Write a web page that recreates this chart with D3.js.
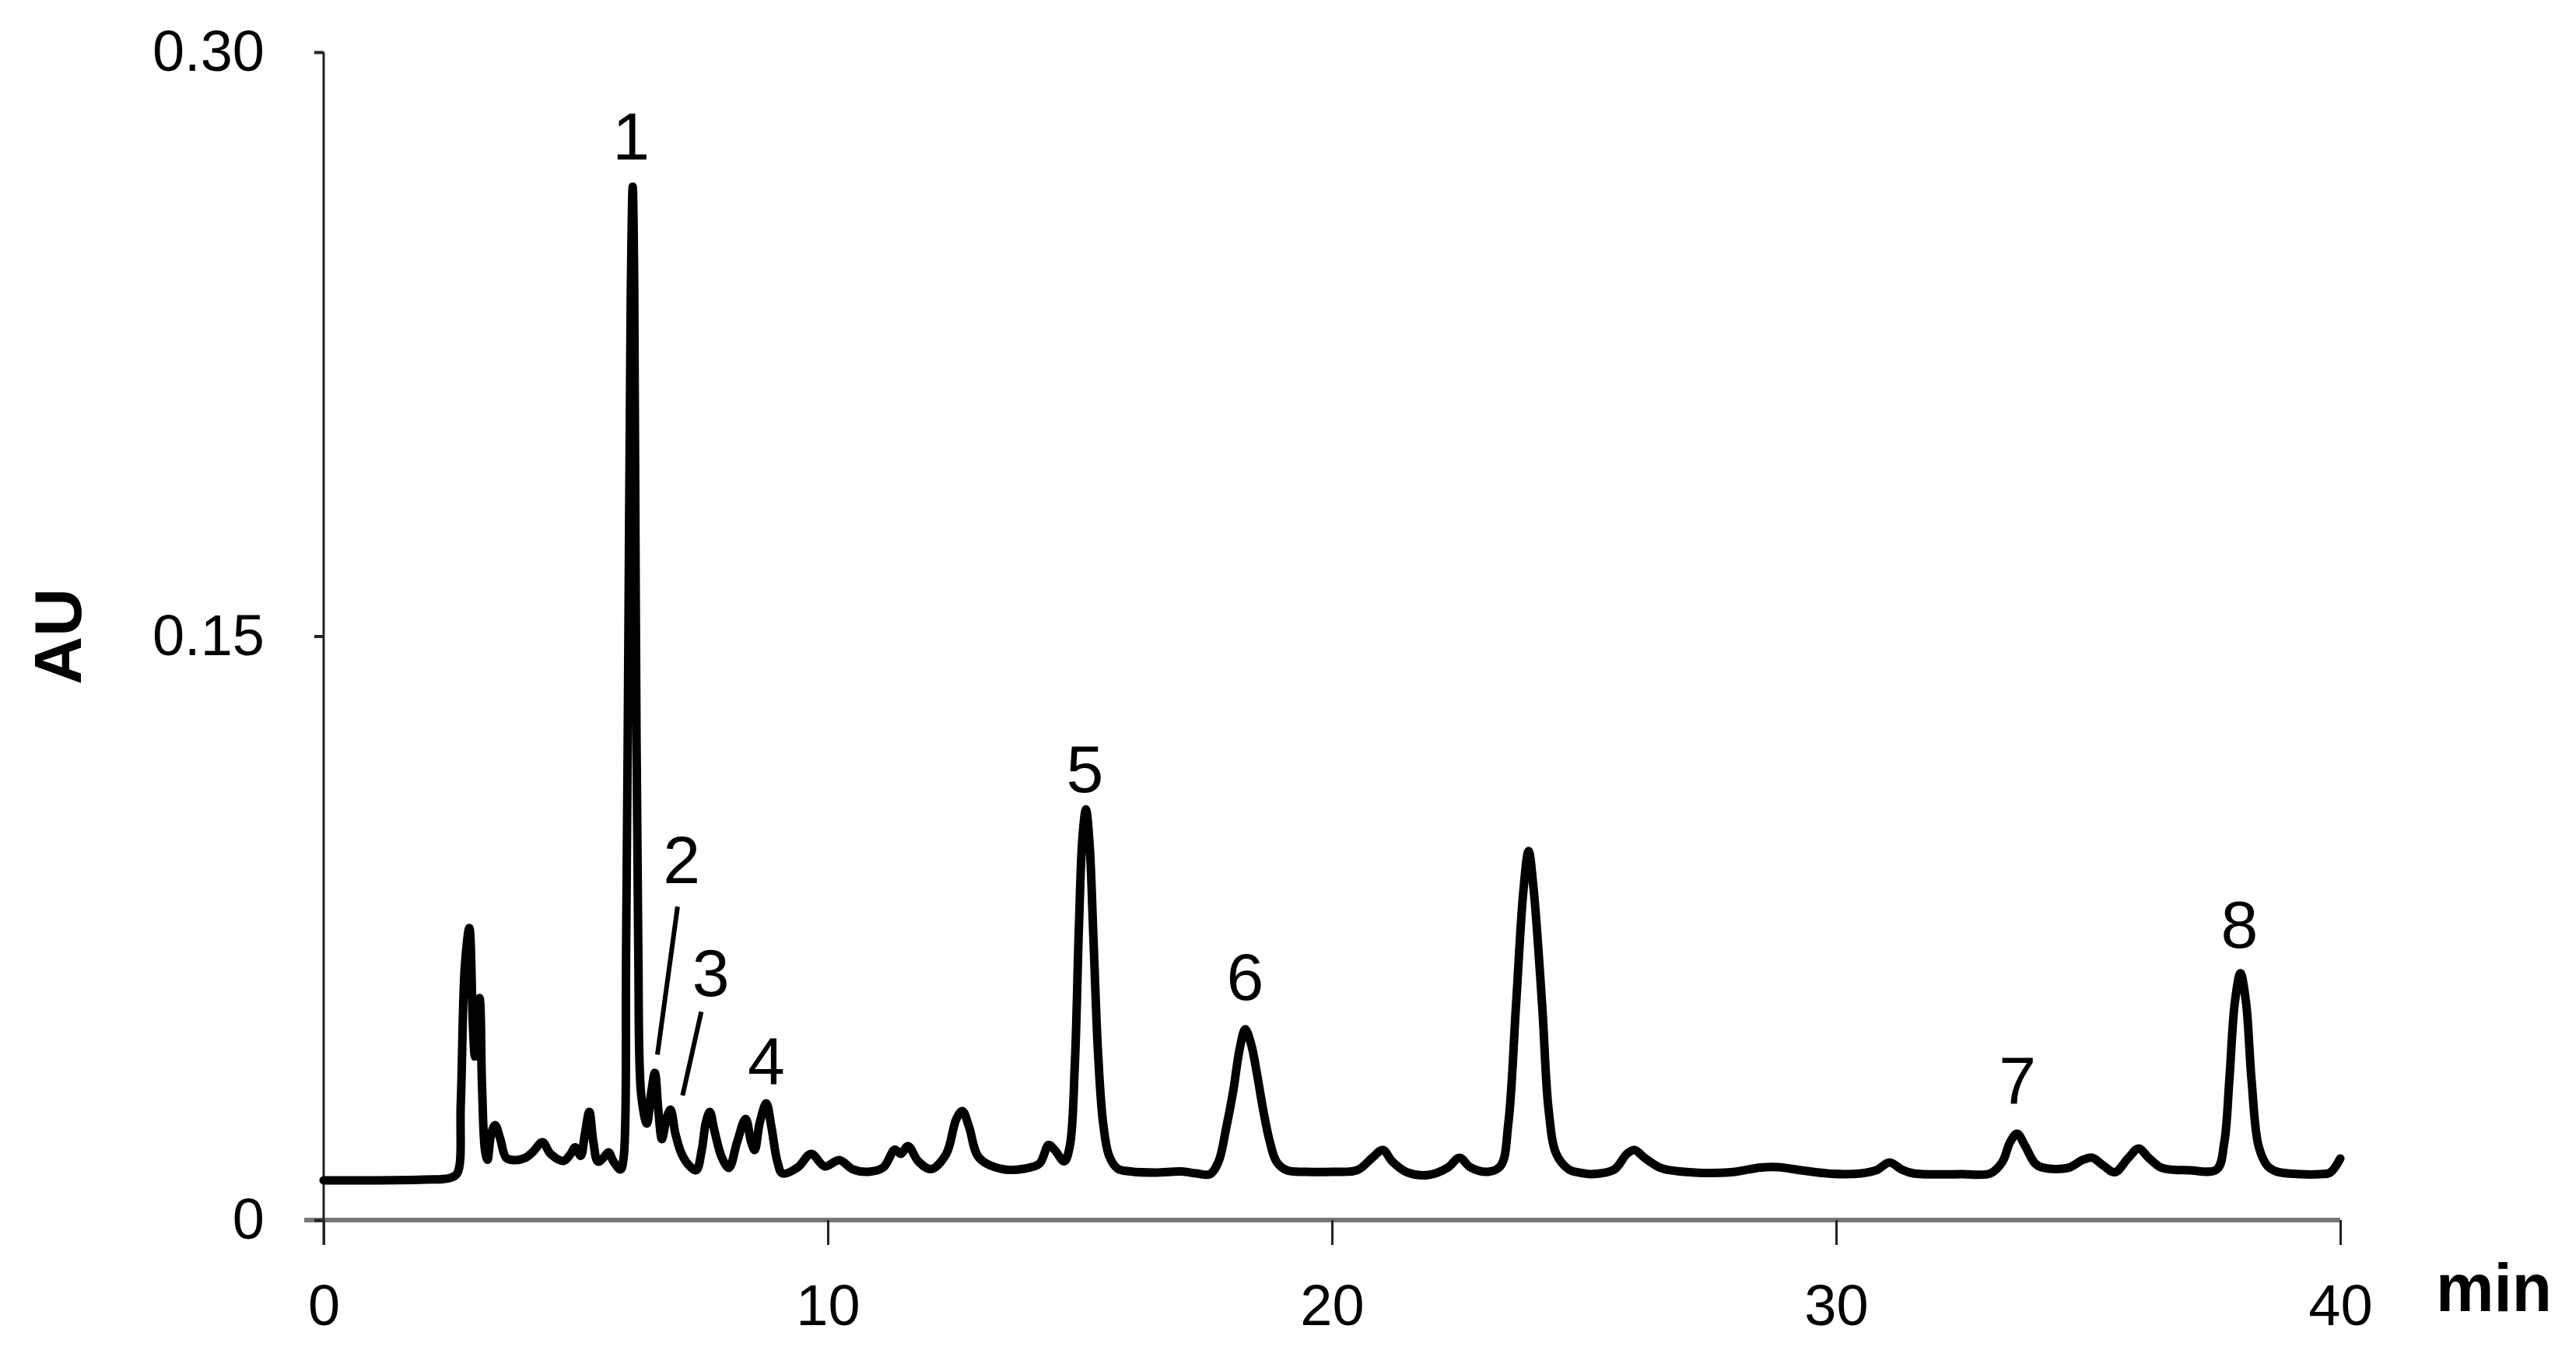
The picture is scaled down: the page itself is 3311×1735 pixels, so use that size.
<!DOCTYPE html>
<html>
<head>
<meta charset="utf-8">
<script src="https://cdn.jsdelivr.net/npm/d3@7"></script>
<style>
  html, body { margin: 0; padding: 0; background: #fff; }
  svg { display: block; }
  text { font-family: "Liberation Sans", Arial, sans-serif; }
</style>
</head>
<body>
<svg id="chart" width="3311" height="1735"></svg>
<script>
// ---- data (retention time in min, absorbance in AU) ----
const times = [
  0, 1, 2, 2.5, 2.65, 2.72, 2.8, 2.89, 2.96, 3.0, 3.05, 3.09, 3.14, 3.2, 3.25, 3.32, 3.4, 3.5, 3.62, 3.79,
  4.0, 4.15, 4.34, 4.5, 4.76, 4.9, 4.99, 5.1, 5.18, 5.27, 5.35, 5.44, 5.55, 5.65, 5.75, 5.89,
  5.95, 6.0, 6.05, 6.09, 6.13, 6.16, 6.19, 6.24, 6.3, 6.41, 6.5, 6.57, 6.64, 6.71, 6.8, 6.88, 6.98,
  7.1, 7.25, 7.39, 7.5, 7.58, 7.66, 7.75, 7.9, 8.04, 8.2, 8.37, 8.48, 8.55, 8.65, 8.78, 8.88, 9.0, 9.1,
  9.4, 9.67, 9.94, 10.23, 10.5, 10.81, 11.1, 11.33, 11.45, 11.59, 11.8, 12.05, 12.35, 12.55, 12.67, 12.8,
  13.0, 13.45, 13.9, 14.2, 14.38, 14.5, 14.69, 14.8, 14.9, 14.98, 15.05, 15.12, 15.19, 15.27, 15.36, 15.46,
  15.58, 15.75, 16.0, 16.5, 17.0, 17.3, 17.58, 17.75, 17.9, 18.04, 18.17, 18.28, 18.4, 18.52, 18.64, 18.76, 18.9,
  19.1, 19.5, 20.0, 20.5, 20.8, 21.01, 21.2, 21.5, 21.92, 22.3, 22.53, 22.75, 23.1, 23.35, 23.5, 23.65,
  23.8, 23.9, 24.0, 24.17, 24.3, 24.45, 24.7, 24.9, 25.15, 25.6, 25.85, 26.0, 26.2, 26.5, 26.7, 27.2,
  27.57, 28.0, 28.5, 28.85, 29.3, 29.9, 30.5, 30.8, 31.06, 31.3, 31.53, 32.5, 33.06, 33.3, 33.45, 33.59,
  33.75, 33.95, 34.12, 34.6, 34.9, 35.08, 35.3, 35.53, 35.8, 36.0, 36.2, 36.46, 37.0, 37.55, 37.7, 37.8,
  37.91, 38.02, 38.13, 38.24, 38.38, 38.55, 38.73, 39.2, 39.6, 39.8, 40.0
];
const absorbance = [
  0.0102, 0.0102, 0.0104, 0.0108, 0.012, 0.03, 0.065, 0.075, 0.05, 0.042, 0.055, 0.057, 0.035, 0.018, 0.0155, 0.022, 0.0244, 0.021, 0.016, 0.0154,
  0.016, 0.0175, 0.020, 0.017, 0.0152, 0.017, 0.0187, 0.0165, 0.022, 0.0278, 0.020, 0.015, 0.016, 0.0174, 0.015, 0.013,
  0.016, 0.07, 0.16, 0.235, 0.2654, 0.24, 0.16, 0.07, 0.032, 0.0248, 0.033, 0.0378, 0.028, 0.0208, 0.026, 0.0284, 0.022,
  0.017, 0.014, 0.0128, 0.018, 0.025, 0.0278, 0.023, 0.016, 0.0134, 0.020, 0.026, 0.020, 0.018, 0.025, 0.030, 0.024, 0.015, 0.012,
  0.0135, 0.017, 0.0138, 0.0154, 0.013, 0.0124, 0.0135, 0.0181, 0.017, 0.019, 0.015, 0.0131, 0.017, 0.026, 0.028, 0.024,
  0.016, 0.0131, 0.0132, 0.0145, 0.0193, 0.018, 0.0151, 0.019, 0.040, 0.075, 0.098, 0.1055, 0.097, 0.072, 0.043, 0.025,
  0.0165, 0.0132, 0.0125, 0.0122, 0.0125, 0.012, 0.0118, 0.0150, 0.0235, 0.0330, 0.0440, 0.0490, 0.0450, 0.0370, 0.0280, 0.0205, 0.0150,
  0.0128, 0.0124, 0.0124, 0.0128, 0.016, 0.018, 0.015, 0.0122, 0.0116, 0.0135, 0.016, 0.0135, 0.0124, 0.014, 0.025, 0.055,
  0.085, 0.0948, 0.085, 0.055, 0.028, 0.017, 0.013, 0.0122, 0.0118, 0.013, 0.017, 0.018, 0.016, 0.0135, 0.0128, 0.0122,
  0.0121, 0.0124, 0.0135, 0.0136, 0.0128, 0.0119, 0.012, 0.0128, 0.0148, 0.013, 0.012, 0.0118, 0.012, 0.015, 0.020, 0.0222,
  0.019, 0.0145, 0.0134, 0.0134, 0.0155, 0.016, 0.014, 0.0123, 0.016, 0.0184, 0.016, 0.0134, 0.0128, 0.013, 0.020, 0.036,
  0.056, 0.0634, 0.056, 0.036, 0.019, 0.0140, 0.0125, 0.0118, 0.0118, 0.0122, 0.0158
];

// peak labels
const peakNames = ["1", "2", "3", "4", "5", "6", "7", "8"];
const peakLabelTime = [6.1, 7.1, 7.68, 8.78, 15.1, 18.28, 33.6, 38.0];
const peakLabelAU = [0.2725, 0.0866, 0.0575, 0.0350, 0.1100, 0.0565, 0.0300, 0.0700];
// leader lines for labels 2 and 3: [t1, v1, t2, v2]
const leaderLines = [
  [7.02, 0.0805, 6.62, 0.0425],
  [7.49, 0.0535, 7.12, 0.0320]
];

// axis ticks
const xTicks = [0, 10, 20, 30, 40];
const yTicks = [0, 0.15, 0.30];
const yTickLabels = ["0", "0.15", "0.30"];
const xTitle = "min";
const yTitle = "AU";

// ---- drawing ----
const svg = d3.select("#chart");
const x = d3.scaleLinear().domain([0, 40]).range([416, 3008]);
const y = d3.scaleLinear().domain([0, 0.30]).range([1568, 67]);

// x axis (gray thick base line + ticks)
svg.append("line")
  .attr("x1", x(0) - 25).attr("x2", x(40))
  .attr("y1", y(0)).attr("y2", y(0))
  .attr("stroke", "#777").attr("stroke-width", 6);

const xAxis = svg.append("g")
  .attr("transform", `translate(0,${y(0)})`)
  .call(d3.axisBottom(x).tickValues(xTicks).tickFormat(d3.format("d")).tickSize(32).tickSizeOuter(0).tickPadding(50));
xAxis.select(".domain").remove();
xAxis.selectAll(".tick line").attr("stroke", "#222").attr("stroke-width", 3);
xAxis.selectAll(".tick text").attr("font-size", 74).attr("fill", "#000")
  .style("font-family", '"Liberation Sans", Arial, sans-serif');

// y axis
svg.append("line")
  .attr("x1", x(0)).attr("x2", x(0))
  .attr("y1", y(0.30)).attr("y2", y(0) + 32)
  .attr("stroke", "#222").attr("stroke-width", 3);

const yAxis = svg.append("g")
  .attr("transform", `translate(${x(0)},0)`)
  .call(d3.axisLeft(y).tickValues(yTicks).tickFormat((d, i) => yTickLabels[i]).tickSize(12).tickSizeOuter(0).tickPadding(64));
yAxis.select(".domain").remove();
yAxis.selectAll(".tick line").attr("stroke", "#222").attr("stroke-width", 4);
yAxis.selectAll(".tick text").attr("font-size", 74).attr("fill", "#000")
  .style("font-family", '"Liberation Sans", Arial, sans-serif');

// axis titles
svg.append("text")
  .attr("x", 3131).attr("y", 1685)
  .attr("font-size", 88).attr("font-weight", "bold")
  .attr("textLength", 149).attr("lengthAdjust", "spacingAndGlyphs")
  .text(xTitle);
svg.append("text")
  .attr("transform", "translate(104,818) rotate(-90)")
  .attr("text-anchor", "middle")
  .attr("font-size", 86).attr("font-weight", "bold")
  .text(yTitle);

// trace
const trace = times.map((t, i) => [t, absorbance[i]]);
const line = d3.line()
  .x(d => x(d[0]))
  .y(d => y(d[1]))
  .curve(d3.curveCatmullRom.alpha(0.5));
svg.append("path")
  .datum(trace)
  .attr("d", line)
  .attr("fill", "none")
  .attr("stroke", "#000")
  .attr("stroke-width", 11)
  .attr("stroke-linejoin", "round")
  .attr("stroke-linecap", "round");

// leader lines
svg.selectAll(".leader").data(leaderLines).enter().append("line")
  .attr("x1", d => x(d[0])).attr("y1", d => y(d[1]))
  .attr("x2", d => x(d[2])).attr("y2", d => y(d[3]))
  .attr("stroke", "#000").attr("stroke-width", 6);

// peak labels
svg.selectAll(".plabel").data(peakNames).enter().append("text")
  .attr("x", (d, i) => x(peakLabelTime[i]))
  .attr("y", (d, i) => y(peakLabelAU[i]))
  .attr("text-anchor", "middle")
  .attr("font-size", 86)
  .attr("fill", "#000")
  .text(d => d);
</script>
</body>
</html>
